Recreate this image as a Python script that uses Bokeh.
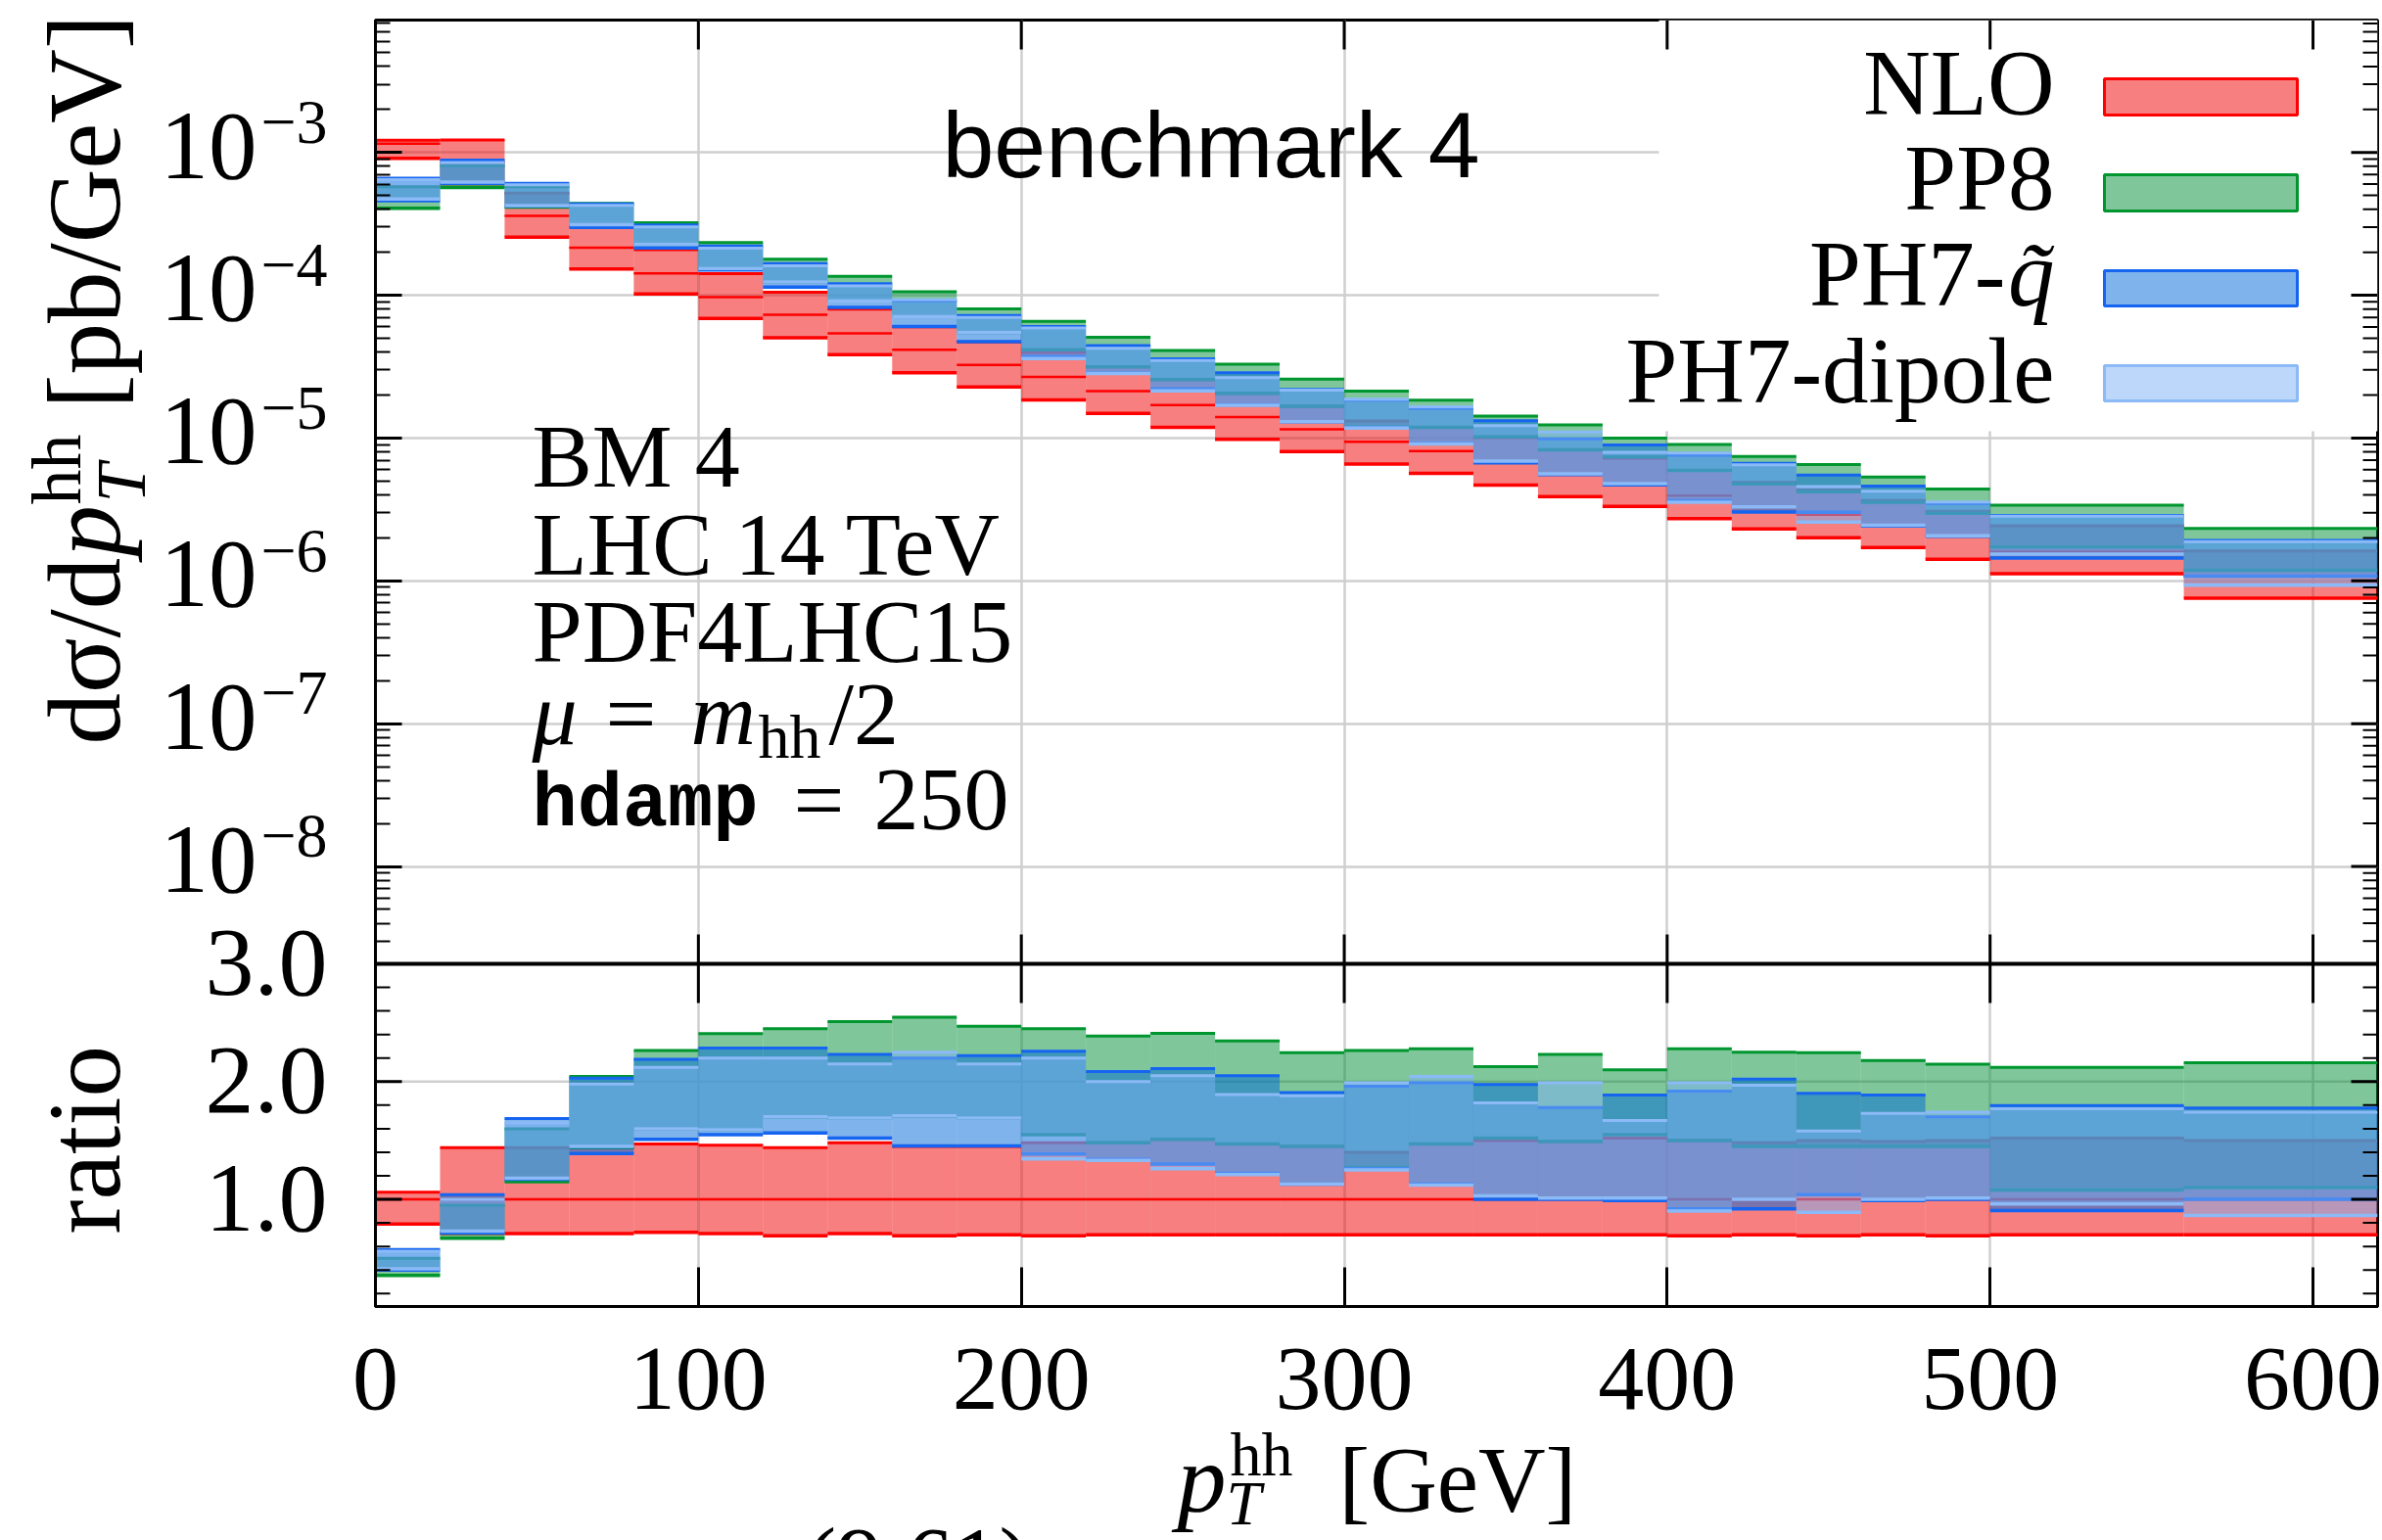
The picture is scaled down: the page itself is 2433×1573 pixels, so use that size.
import numpy as np
from bokeh.plotting import figure
from bokeh.layouts import row, column
from bokeh.models import Range1d, LinearScale, FixedTicker, CustomJSTickFormatter, Label
from bokeh.embed import file_html
from bokeh.resources import INLINE

# ------------------------------------------------------------------ data
bin_edges = [0, 20, 40, 60, 80, 100, 120, 140, 160, 180, 200, 220, 240, 260,
             280, 300, 320, 340, 360, 380, 400, 420, 440, 460, 480, 500, 560, 620]

# NLO central value in pb/GeV (main panel)
nlo_central = [1.15e-3, 8.5e-4, 3.6e-4, 2.15e-4, 1.42e-4, 9.7e-5, 7.3e-5, 5.4e-5,
               4.15e-5, 3.25e-5, 2.68e-5, 2.13e-5, 1.70e-5, 1.40e-5, 1.15e-5, 9.4e-6,
               8.1e-6, 6.7e-6, 5.55e-6, 4.75e-6, 3.95e-6, 3.3e-6, 2.9e-6, 2.45e-6,
               2.05e-6, 1.6e-6, 1.08e-6]

# ratio to NLO central (ratio panel): lower / upper edges of each band
nlo_ratio_lo = [0.79, 0.71, 0.71, 0.71, 0.72, 0.71, 0.69, 0.71, 0.69, 0.70, 0.69, 0.70, 0.70, 0.70,
                0.70, 0.70, 0.70, 0.70, 0.70, 0.70, 0.69, 0.70, 0.69, 0.70, 0.69, 0.70, 0.70]
nlo_ratio_hi = [1.06, 1.44, 1.44, 1.44, 1.47, 1.46, 1.44, 1.48, 1.45, 1.45, 1.48, 1.48, 1.51, 1.47,
                1.45, 1.40, 1.47, 1.50, 1.49, 1.52, 1.50, 1.48, 1.50, 1.49, 1.50, 1.52, 1.50]
pp8_ratio_lo = [0.354, 0.67, 1.15, 1.44, 1.60, 1.59, 1.70, 1.69, 1.71, 1.69, 1.55, 1.48, 1.51, 1.47,
                1.45, 1.27, 1.47, 1.52, 1.49, 1.55, 1.50, 1.45, 1.45, 1.45, 1.45, 1.08, 1.10]
pp8_ratio_hi = [0.50, 0.95, 1.60, 2.044, 2.264, 2.407, 2.45, 2.51, 2.547, 2.47, 2.45, 2.387, 2.41, 2.346,
                2.245, 2.264, 2.278, 2.126, 2.23, 2.10, 2.278, 2.25, 2.245, 2.18, 2.148, 2.12, 2.16]
ph7q_ratio_lo = [0.40, 0.715, 1.17, 1.39, 1.51, 1.55, 1.563, 1.52, 1.453, 1.453, 1.385, 1.34, 1.30, 1.22,
                 1.13, 1.26, 1.13, 1.00, 1.00, 0.99, 0.92, 0.92, 1.04, 0.99, 1.00, 0.904, 1.00]
ph7q_ratio_hi = [0.574, 1.04, 1.687, 2.03, 2.19, 2.286, 2.286, 2.23, 2.20, 2.22, 2.258, 2.085, 2.11, 2.05,
                 1.907, 1.96, 1.99, 1.975, 1.78, 1.885, 1.92, 2.02, 1.90, 1.885, 1.70, 1.797, 1.775]
ph7d_ratio_lo = [0.41, 0.73, 1.18, 1.45, 1.60, 1.59, 1.70, 1.69, 1.71, 1.69, 1.343, 1.33, 1.26, 1.21,
                 1.13, 1.25, 1.12, 1.03, 1.01, 1.01, 0.90, 1.00, 0.89, 1.00, 1.01, 0.96, 0.863]
ph7d_ratio_hi = [0.56, 1.00, 1.65, 1.98, 2.12, 2.20, 2.20, 2.15, 2.25, 2.15, 2.20, 2.00, 2.05, 1.89,
                 1.88, 1.99, 2.044, 1.82, 1.99, 1.67, 1.99, 1.97, 1.58, 1.73, 1.74, 1.77, 1.74]

x_ticks = [0, 100, 200, 300, 400, 500, 600]
y_decades = [-8, -7, -6, -5, -4, -3]
ratio_ticks = [1.0, 2.0, 3.0]
ratio_minor = [0.2, 0.4, 0.6, 0.8, 1.2, 1.4, 1.6, 1.8, 2.2, 2.4, 2.6, 2.8]
legend_labels = ["NLO", "PP8", "PH7-", "PH7-dipole"]

# ------------------------------------------------------------------ style / geometry
W, H = 2433, 1573
LW = 343                                   # left text strip width
FL, FR, FT, FB = 383, 2428, 20, 1334       # frame (canvas px)
MAIN_H = 1354                              # main figure height
MB = 984                                   # boundary main / ratio
X0, X1 = 0.0, 620.0
LT, LB = -2.073, -8.682                    # log10 range of main panel
RT, RB = 3.0, 0.09                         # ratio panel range
slope = (LT - LB) / (MB - FT)              # decades per px
RPX = (FB - MB) / (RT - RB)                # px per ratio unit
PXX = (FR - FL) / (X1 - X0)                # px per GeV
ylog_full_lo = LB - (FB - MB) * slope
r_full_hi = RT + (MB - FT) / RPX
BASE_FIX = 0.34                            # baseline correction (em)

SERIF = "Liberation Serif"
C_NLO = ("#ef0000", "#ff0000")
C_PP8 = ("#009037", "#00962f")
C_PHQ = ("#0068d8", "#1565f0")
C_PHD = ("#79aff3", "#8bbaf7")
GRID = "#cfcfcf"


def cx2x(cx):
    return X0 + (cx - FL) / PXX


def cy2y(cy):
    return 10 ** (LT - (cy - FT) * slope)


p = figure(width=W - LW, height=MAIN_H, x_range=Range1d(X0, X1),
           y_range=Range1d(10 ** ylog_full_lo, 10 ** LT), y_axis_type="log",
           output_backend="svg", toolbar_location=None,
           min_border_left=FL - LW, min_border_right=W - FR,
           min_border_top=FT, min_border_bottom=MAIN_H - FB)
p.extra_y_ranges = {"ratio": Range1d(RB, r_full_hi)}
p.extra_y_scales = {"ratio": LinearScale()}
p.background_fill_color = "white"
p.border_fill_color = "white"
p.outline_line_color = "black"
p.outline_line_width = 3

minor_log = []
for d in range(-10, -1):
    for k in range(2, 10):
        v = k * 10.0 ** d
        if 10 ** LB < v < 10 ** LT:
            minor_log.append(v)
major_log = [10.0 ** d for d in y_decades]

yax = p.yaxis[0]
yax.ticker = FixedTicker(ticks=major_log, minor_ticks=minor_log)
yax.formatter = CustomJSTickFormatter(code="return ''")
yax.major_label_text_font_size = "1px"
yax.major_label_standoff = 0
yax.major_tick_in = 27
yax.major_tick_out = 0
yax.minor_tick_in = 15
yax.minor_tick_out = 0
yax.major_tick_line_width = 3
yax.minor_tick_line_width = 2
yax.axis_line_width = 3

xax = p.xaxis[0]
xax.ticker = FixedTicker(ticks=x_ticks)
xax.formatter = CustomJSTickFormatter(code="return ''")
xax.major_label_text_font_size = "1px"
xax.major_label_standoff = 0
xax.major_tick_in = 40
xax.major_tick_out = 0
xax.minor_tick_line_color = None
xax.major_tick_line_width = 3
xax.axis_line_width = 3

p.xgrid.grid_line_color = GRID
p.xgrid.grid_line_width = 2.5
p.ygrid.grid_line_color = GRID
p.ygrid.grid_line_width = 2.5

left = np.array(bin_edges[:-1], dtype=float)
right = np.array(bin_edges[1:], dtype=float)
nlo = np.array(nlo_central)

# ratio-panel grid lines
p.segment(x0=[X0] * 2, x1=[X1] * 2, y0=ratio_ticks[:2], y1=ratio_ticks[:2],
          y_range_name="ratio", line_color=GRID, line_width=2.5)


def band(lo_r, hi_r, colors):
    fill, line = colors
    lo_r = np.array(lo_r)
    hi_r = np.array(hi_r)
    for lo, hi, rng in ((nlo * lo_r, nlo * hi_r, "default"), (lo_r, hi_r, "ratio")):
        p.quad(left=left, right=right, bottom=lo, top=hi, fill_color=fill,
               fill_alpha=0.5, line_color=None, y_range_name=rng)
        p.segment(x0=left, x1=right, y0=hi, y1=hi, line_color=line, line_width=3,
                  y_range_name=rng)
        p.segment(x0=left, x1=right, y0=lo, y1=lo, line_color=line, line_width=3.5,
                  y_range_name=rng)


band(nlo_ratio_lo, nlo_ratio_hi, C_NLO)
p.segment(x0=left, x1=right, y0=nlo, y1=nlo, line_color=C_NLO[1], line_width=2.5)
p.segment(x0=left, x1=right, y0=nlo / nlo, y1=nlo / nlo, line_color=C_NLO[1],
          line_width=2.5, y_range_name="ratio")
band(pp8_ratio_lo, pp8_ratio_hi, C_PP8)
band(ph7q_ratio_lo, ph7q_ratio_hi, C_PHQ)
band(ph7d_ratio_lo, ph7d_ratio_hi, C_PHD)

# ---------------------------------------------------------------- legend box
p.quad(left=[cx2x(1694)], right=[X1], bottom=[cy2y(440)], top=[10 ** LT],
       fill_color="white", line_color=None)
sw_top = [80, 178, 276, 373]
sw_bot = [117, 215, 312, 409]
for i, cols in enumerate([C_NLO, C_PP8, C_PHQ, C_PHD]):
    p.quad(left=[cx2x(2149)], right=[cx2x(2346)], bottom=[cy2y(sw_bot[i])],
           top=[cy2y(sw_top[i])], fill_color=cols[0], fill_alpha=0.5,
           line_color=cols[1], line_width=3)

# ---------------------------------------------------------------- extra ticks
n = len(major_log)
p.segment(x0=[X1 - 27 / PXX] * n, x1=[X1] * n, y0=major_log, y1=major_log,
          line_color="black", line_width=3)
m = len(minor_log)
p.segment(x0=[X1 - 15 / PXX] * m, x1=[X1] * m, y0=minor_log, y1=minor_log,
          line_color="black", line_width=2)
for xa, sgn in ((X0, 1), (X1, -1)):
    p.segment(x0=[xa] * 2, x1=[xa + sgn * 27 / PXX] * 2, y0=ratio_ticks[:2],
              y1=ratio_ticks[:2], y_range_name="ratio", line_color="black", line_width=3)
    k = len(ratio_minor)
    p.segment(x0=[xa] * k, x1=[xa + sgn * 15 / PXX] * k, y0=ratio_minor, y1=ratio_minor,
              y_range_name="ratio", line_color="black", line_width=2)
xt = x_ticks[1:]
nx = len(xt)
p.segment(x0=xt, x1=xt, y0=[10 ** LT] * nx, y1=[10 ** (LT - 30 * slope)] * nx,
          line_color="black", line_width=3)
p.segment(x0=xt, x1=xt, y0=[10 ** LB] * nx, y1=[10 ** (LB + 30 * slope)] * nx,
          line_color="black", line_width=3)
p.segment(x0=xt, x1=xt, y0=[RT] * nx, y1=[RT - 40 / RPX] * nx, y_range_name="ratio",
          line_color="black", line_width=3)
p.segment(x0=[X0], x1=[X1], y0=[RT], y1=[RT], y_range_name="ratio",
          line_color="black", line_width=4)


# ---------------------------------------------------------------- text strips
def strip(w, h, cx0, cy0):
    f = figure(width=w, height=h, x_range=Range1d(cx0, cx0 + w),
               y_range=Range1d(cy0 + h, cy0), output_backend="svg",
               toolbar_location=None, min_border=0,
               x_axis_location=None, y_axis_location=None)
    f.outline_line_color = None
    f.background_fill_color = "white"
    f.border_fill_color = "white"
    f.frame_align = False
    for g in f.grid:
        g.visible = False
    return f


left_strip = strip(LW, H, 0, 0)
bottom_strip = strip(W - LW, H - MAIN_H, LW, MAIN_H)


def lab(fig, text, cx, cy, size, font=SERIF, style="normal", align="left", angle=0.0):
    if angle == 0.0:
        cy = cy - BASE_FIX * size
    else:
        cx = cx - BASE_FIX * size
    if fig is p:
        x, y = cx2x(cx), cy2y(cy)
    else:
        x, y = cx, cy
    fig.add_layout(Label(x=x, y=y, text=text, text_font=font,
                         text_font_size=f"{size}px", text_font_style=style,
                         text_align=align, text_baseline="alphabetic", angle=angle,
                         text_color="black"))


# y tick labels (main)
for d in y_decades:
    gy = FT + (LT - d) / slope
    lab(left_strip, "10", 262, gy + 27, 99, align="right")
    lab(left_strip, f"\u2212{-d}", 334, gy - 9, 64, align="right")
# ratio tick labels
for r in ratio_ticks:
    gy = MB + (RT - r) * RPX
    lab(left_strip, f"{r:.1f}", 334, gy + 33, 100, align="right")

# y axis title (rotated)
A = np.pi / 2
XB = 122
lab(left_strip, "d\u03c3/d", XB, 760, 105, angle=A)
lab(left_strip, "p", XB, 568, 105, style="italic", angle=A)
lab(left_strip, "hh", XB - 40, 515, 72, angle=A)
lab(left_strip, "T", XB + 26, 513, 72, style="italic", angle=A)
lab(left_strip, "[pb/GeV]", XB, 417, 105, angle=A)
lab(left_strip, "ratio", XB, 1260, 105, angle=A)

# x tick labels
for t in x_ticks:
    lab(bottom_strip, str(t), FL + t * PXX, 1440, 94, align="center")

# x axis title
lab(bottom_strip, "p", 1202, 1544, 100, style="italic")
lab(bottom_strip, "hh", 1256, 1507, 64)
lab(bottom_strip, "T", 1252, 1557, 64, style="italic")
lab(bottom_strip, "[GeV]", 1367, 1544, 95)
lab(bottom_strip, "(9.61)", 822, 1626, 95)

# annotations in the plot
lab(p, "benchmark 4", 962, 180, 95, font="Liberation Sans")
lab(p, "BM 4", 543, 497, 92)
lab(p, "LHC 14 TeV", 543, 587, 92)
lab(p, "PDF4LHC15", 543, 676, 92)
lab(p, "\u03bc", 543, 760, 92, style="italic")
lab(p, "=", 618, 760, 92)
lab(p, "m", 705, 760, 92, style="italic")
lab(p, "hh", 774, 774, 64)
lab(p, "/2", 846, 760, 92)
lab(p, "hdamp", 543, 848, 77, font="Liberation Mono", style="bold")
lab(p, "=", 810, 848, 92)
lab(p, "250", 892, 848, 92)

# legend labels
lab(p, legend_labels[0], 2098, 117, 95, align="right")
lab(p, legend_labels[1], 2098, 214, 95, align="right")
lab(p, legend_labels[2], 2048, 312, 95, align="right")
lab(p, "q\u0303", 2098, 312, 95, style="italic", align="right")
lab(p, legend_labels[3], 2098, 411, 95, align="right")

layout = row(left_strip, column(p, bottom_strip))
open("out.html", "w").write(file_html(layout, INLINE))
